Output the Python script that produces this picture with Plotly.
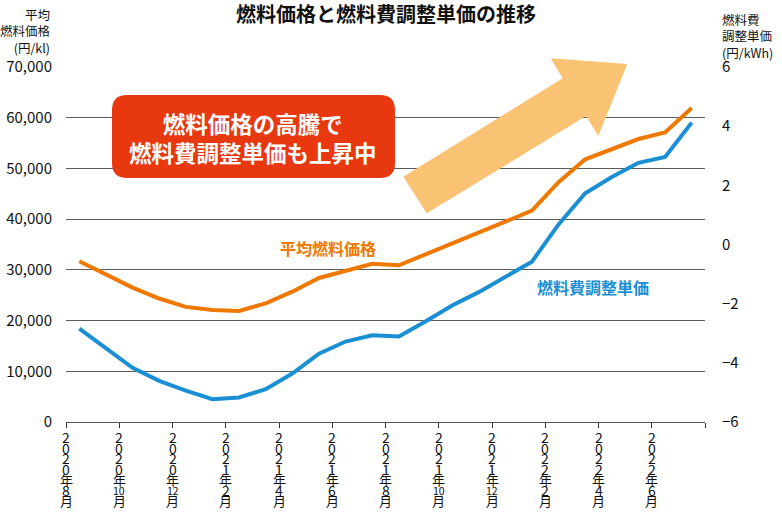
import plotly.graph_objects as go

# ---- data ----
months = ["2020-08", "2020-09", "2020-10", "2020-11", "2020-12", "2021-01",
          "2021-02", "2021-03", "2021-04", "2021-05", "2021-06", "2021-07",
          "2021-08", "2021-09", "2021-10", "2021-11", "2021-12", "2022-01",
          "2022-02", "2022-03", "2022-04", "2022-05", "2022-06", "2022-07"]
fuel_price = [31700, 29100, 26500, 24350, 22700, 22100, 21900, 23400, 25700, 28400,
              29900, 31200, 30900, 33000, 35100, 37300, 39500, 41700, 47300, 51800,
              53900, 55800, 57100, 61900]
adj_unit = [-2.84, -3.51, -4.17, -4.61, -4.94, -5.23, -5.17, -4.89, -4.36, -3.69,
            -3.28, -3.07, -3.11, -2.60, -2.06, -1.61, -1.10, -0.58, 0.68, 1.73,
            2.28, 2.76, 2.96, 4.12]
tick_vals = [0, 2, 4, 6, 8, 10, 12, 14, 16, 18, 20, 22, 24]
tick_labels = ["2020年8月", "2020年10月", "2020年12月", "2021年2月", "2021年4月",
               "2021年6月", "2021年8月", "2021年10月", "2021年12月", "2022年2月",
               "2022年4月", "2022年6月", ""]
left_ticks = [0, 10000, 20000, 30000, 40000, 50000, 60000, 70000]
right_ticks = [-6, -4, -2, 0, 2, 4, 6]

title = "燃料価格と燃料費調整単価の推移"
left_title = ["平均", "燃料価格", "(円/kl)"]
right_title = ["燃料費", "調整単価", "(円/kWh)"]
series_names = ["平均燃料価格", "燃料費調整単価"]
callout = ["燃料価格の高騰で", "燃料費調整単価も上昇中"]

ORANGE = "#EE7800"
BLUE = "#1A8FD3"
RED = "#E83810"
ARROW = "#F9C373"
FONT = "Noto Sans CJK JP"

W, H = 782, 522
L, R, T, B = 66, 77, 67, 100
PW, PH = W - L - R, H - T - B


def px(x, y):
    return (x - L) / PW, (H - B - y) / PH


def tokens(label):
    if not label:
        return []
    y, rest = label.split("年")
    m = rest.replace("月", "")
    return list(y) + ["年", m, "月"]


xs = [i + 0.5 for i in range(len(months))]

fig = go.Figure()
fig.add_trace(go.Scatter(x=xs, y=fuel_price, mode="lines", name=series_names[0],
                         line=dict(color=ORANGE, width=4), yaxis="y",
                         customdata=months, hovertemplate="%{customdata}: %{y:,}<extra></extra>"))
fig.add_trace(go.Scatter(x=xs, y=adj_unit, mode="lines", name=series_names[1],
                         line=dict(color=BLUE, width=4), yaxis="y2",
                         customdata=months, hovertemplate="%{customdata}: %{y}<extra></extra>"))

fig.update_layout(
    width=W, height=H,
    margin=dict(l=L, r=R, t=T, b=B, autoexpand=False),
    paper_bgcolor="white", plot_bgcolor="white",
    showlegend=False,
    font=dict(family=FONT, color="#111"),
    xaxis=dict(range=[0, 24], tickvals=tick_vals, showticklabels=False,
               ticks="outside", ticklen=5, tickcolor="#333", tickwidth=1,
               showline=True, linecolor="#555", linewidth=1, automargin=False,
               showgrid=False, zeroline=False),
    yaxis=dict(range=[0, 70000], tickvals=left_ticks, tickformat=",",
               showgrid=True, gridcolor="#5a5a5a", gridwidth=1, automargin=False,
               zeroline=False, showline=False, ticks="",
               tickfont=dict(size=15, family=FONT, color="#111"),
               ticklabelstandoff=13),
    yaxis2=dict(range=[-6, 6], tickvals=right_ticks, overlaying="y", side="right",
                showgrid=False, zeroline=False, showline=False, ticks="", automargin=False,
                tickfont=dict(size=15, family=FONT, color="#111"),
                ticklabelstandoff=16),
)

# vertical (stacked) x tick labels placed on the x axis scale
row_pitch = 10.6
for v, lab in zip(tick_vals, tick_labels):
    for k, tok in enumerate(tokens(lab)):
        if len(tok) == 2:
            size = 10.5
        elif tok.isdigit():
            size = 14
        else:
            size = 13
        fig.add_annotation(text=tok, xref="x", yref="paper", x=v, y=0,
                           yshift=-(15 + k * row_pitch), showarrow=False,
                           xanchor="center", yanchor="middle",
                           font=dict(size=size, family=FONT, color="#111"))

fig.add_annotation(text=f"<b>{title}</b>", xref="paper", yref="paper",
                   x=px(386, 0)[0], y=px(0, 14)[1], showarrow=False,
                   font=dict(size=20, family=FONT, color="#111"),
                   xanchor="center", yanchor="middle")
fig.add_annotation(text="<br>".join(left_title), xref="paper", yref="paper",
                   x=px(53, 0)[0], y=px(0, 3)[1], showarrow=False, align="right",
                   font=dict(size=12.5, family=FONT, color="#111"),
                   xanchor="right", yanchor="top")
fig.add_annotation(text="<br>".join(right_title), xref="paper", yref="paper",
                   x=px(720, 0)[0], y=px(0, 8)[1], showarrow=False, align="left",
                   font=dict(size=12.5, family=FONT, color="#111"),
                   xanchor="left", yanchor="top")
fig.add_annotation(text=f"<b>{series_names[0]}</b>", xref="paper", yref="paper",
                   x=px(328, 0)[0], y=px(0, 248)[1], showarrow=False,
                   xanchor="center", yanchor="middle",
                   font=dict(size=16, family=FONT, color=ORANGE))
fig.add_annotation(text=f"<b>{series_names[1]}</b>", xref="paper", yref="paper",
                   x=px(593, 0)[0], y=px(0, 287)[1], showarrow=False,
                   xanchor="center", yanchor="middle",
                   font=dict(size=16, family=FONT, color=BLUE))

# arrow
arrow_px = [(426.7, 213.3), (403.3, 176.7), (562.7, 78.3), (550.7, 58.3),
            (627.3, 64), (598.3, 136), (586, 116)]
pts = [px(x, y) for x, y in arrow_px]
path = "M " + " L ".join(f"{a:.5f},{b:.5f}" for a, b in pts) + " Z"
fig.add_shape(type="path", path=path, xref="paper", yref="paper",
              fillcolor=ARROW, line=dict(width=0), layer="above")

# rounded red box
x0, y0, x1, y1, r = 112, 95, 395, 178, 15
def P(x, y):
    a, b = px(x, y)
    return f"{a:.5f},{b:.5f}"
box = (f"M {P(x0 + r, y0)} L {P(x1 - r, y0)} Q {P(x1, y0)} {P(x1, y0 + r)} "
       f"L {P(x1, y1 - r)} Q {P(x1, y1)} {P(x1 - r, y1)} "
       f"L {P(x0 + r, y1)} Q {P(x0, y1)} {P(x0, y1 - r)} "
       f"L {P(x0, y0 + r)} Q {P(x0, y0)} {P(x0 + r, y0)} Z")
fig.add_shape(type="path", path=box, xref="paper", yref="paper",
              fillcolor=RED, line=dict(width=0), layer="above")
fig.add_annotation(text="<b>" + "<br>".join(callout) + "</b>", xref="paper", yref="paper",
                   x=px(253, 0)[0], y=px(0, 137.5)[1], showarrow=False,
                   font=dict(size=22.5, family=FONT, color="white"),
                   xanchor="center", yanchor="middle", align="center")

fig.write_html("out.html")
